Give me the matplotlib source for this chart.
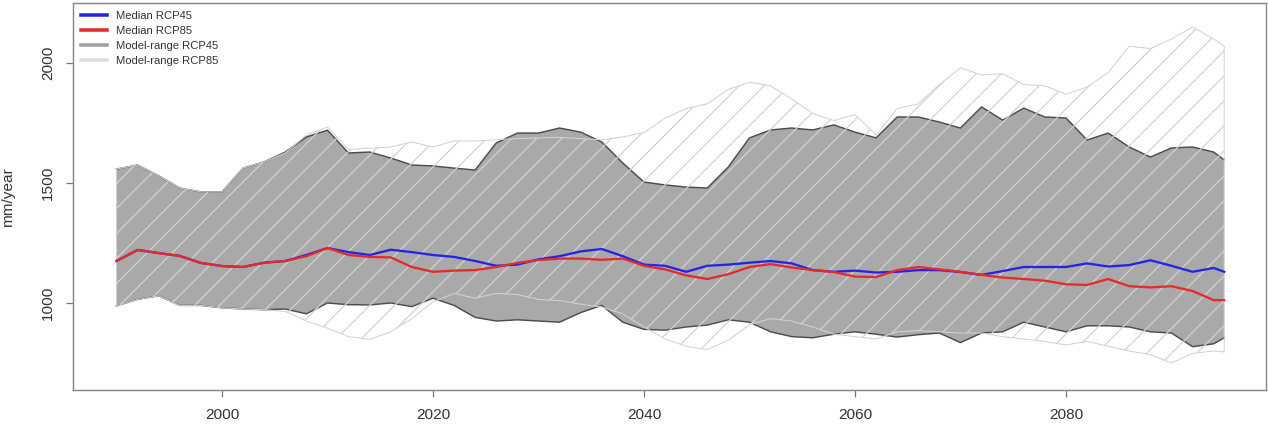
import numpy as np
import matplotlib
matplotlib.use('Agg')
import matplotlib.pyplot as plt
from matplotlib.lines import Line2D

DPI = 150
plt.rcParams['font.family'] = ['Liberation Sans', 'DejaVu Sans']
plt.rcParams['hatch.linewidth'] = 0.6
plt.rcParams['hatch.color'] = '#d2d2d2'

# two-year steps, plus the last year
years = np.append(np.arange(1990, 2095, 2), 2095)

rcp45_hi = [1558, 1575, 1530, 1479, 1463, 1463, 1562, 1588, 1629, 1692,
            1720, 1625, 1629, 1604, 1575, 1571, 1562, 1554, 1667, 1708,
            1708, 1729, 1712, 1671, 1583, 1504, 1492, 1483, 1479, 1567,
            1688, 1721, 1729, 1721, 1742, 1712, 1688, 1775, 1775, 1754,
            1729, 1817, 1762, 1812, 1775, 1771, 1679, 1708, 1650, 1608,
            1646, 1650, 1629, 1596]
rcp45_lo = [988, 1015, 1030, 990, 990, 980, 975, 972, 975, 955,
            1000, 993, 992, 1000, 985, 1020, 990, 940, 925, 930,
            925, 920, 960, 990, 920, 890, 887, 900, 908, 930,
            920, 880, 860, 855, 870, 880, 870, 858, 868, 875,
            835, 875, 880, 920, 900, 880, 905, 905, 900, 880,
            875, 818, 830, 855]
rcp85_hi = [1558, 1575, 1530, 1479, 1463, 1463, 1562, 1588, 1625, 1700,
            1733, 1640, 1645, 1650, 1671, 1650, 1675, 1675, 1680, 1685,
            1688, 1690, 1685, 1680, 1692, 1710, 1770, 1810, 1830, 1890,
            1920, 1905, 1850, 1790, 1760, 1785, 1700, 1810, 1830, 1910,
            1980, 1950, 1955, 1910, 1905, 1870, 1900, 1960, 2070, 2060,
            2100, 2150, 2100, 2070]
rcp85_lo = [988, 1015, 1030, 990, 990, 980, 975, 972, 965, 925,
            895, 860, 848, 880, 935, 1005, 1040, 1020, 1040, 1035,
            1015, 1010, 995, 983, 955, 900, 850, 820, 806, 845,
            910, 935, 925, 900, 870, 860, 850, 880, 885, 880,
            875, 875, 860, 850, 840, 825, 840, 820, 800, 785,
            750, 790, 800, 796]
median45 = [1175, 1221, 1208, 1196, 1167, 1154, 1150, 1168, 1175, 1200,
            1229, 1212, 1200, 1222, 1212, 1200, 1192, 1175, 1155, 1160,
            1182, 1195, 1215, 1225, 1195, 1160, 1155, 1130, 1155, 1160,
            1168, 1175, 1165, 1137, 1130, 1135, 1127, 1130, 1137, 1137,
            1129, 1117, 1133, 1150, 1150, 1150, 1165, 1152, 1158, 1178,
            1155, 1130, 1146, 1130]
median85 = [1175, 1221, 1208, 1196, 1167, 1154, 1150, 1168, 1175, 1195,
            1229, 1200, 1192, 1190, 1150, 1130, 1135, 1137, 1150, 1167,
            1179, 1185, 1185, 1180, 1185, 1155, 1140, 1115, 1100, 1120,
            1150, 1162, 1148, 1137, 1129, 1110, 1108, 1137, 1150, 1140,
            1130, 1117, 1106, 1100, 1093, 1078, 1075, 1100, 1070, 1065,
            1070, 1050, 1012, 1012]

legend_labels = ['Median RCP45', 'Median RCP85', 'Model-range RCP45', 'Model-range RCP85']
x_ticks = [2000, 2020, 2040, 2060, 2080]
y_ticks = [1000, 1500, 2000]

fig = plt.figure(figsize=(1268 / DPI, 434 / DPI), dpi=DPI)
ax = fig.add_axes([73 / 1268, 1 - 390 / 434, 1193 / 1268, 387 / 434])

# RCP45 range: solid grey band with dark outline
ax.fill_between(years, rcp45_lo, rcp45_hi, facecolor='#a9a9a9', edgecolor='none', zorder=1)
ax.plot(years, rcp45_hi, color='#4d4d4d', lw=0.7, zorder=2)
ax.plot(years, rcp45_lo, color='#4d4d4d', lw=0.7, zorder=2)

# RCP85 range: hatched, light grey
ax.fill_between(years, rcp85_lo, rcp85_hi, facecolor='none', edgecolor='#d2d2d2',
                hatch='//', lw=0.5, zorder=3)

ax.plot(years, median45, color='#2424e8', lw=1.1, zorder=4)
ax.plot(years, median85, color='#e62a2a', lw=1.1, zorder=5)

ax.set_xlim(1985.88, 2098.96)
ax.set_ylim(637.5, 2250)
ax.set_xticks(x_ticks)
ax.set_yticks(y_ticks)
ax.tick_params(colors='#777777', labelcolor='#333333', labelsize=7.4, length=3.5,
               width=0.6, pad=5.0)
for lab in ax.get_yticklabels():
    lab.set_rotation(90)
    lab.set_va('center')
for sp in ax.spines.values():
    sp.set_color('#888888')
    sp.set_linewidth(0.7)

fig.text(8 / 1268, 1 - 196 / 434, 'mm/year', rotation=90, ha='center', va='center',
         fontsize=7.4, color='#333333')

handles = [Line2D([], [], color='#2424e8', lw=1.7),
           Line2D([], [], color='#e62a2a', lw=1.7),
           Line2D([], [], color='#a0a0a0', lw=1.7),
           Line2D([], [], color='#dcdcdc', lw=1.7)]
ax.legend(handles, legend_labels, loc='upper left', bbox_to_anchor=(0.0, 1.0),
          frameon=False, fontsize=5.4, handlelength=2.3, handletextpad=0.8,
          labelspacing=0.45, borderaxespad=0.3, labelcolor='#333333')

fig.savefig('out.png', dpi=DPI)
